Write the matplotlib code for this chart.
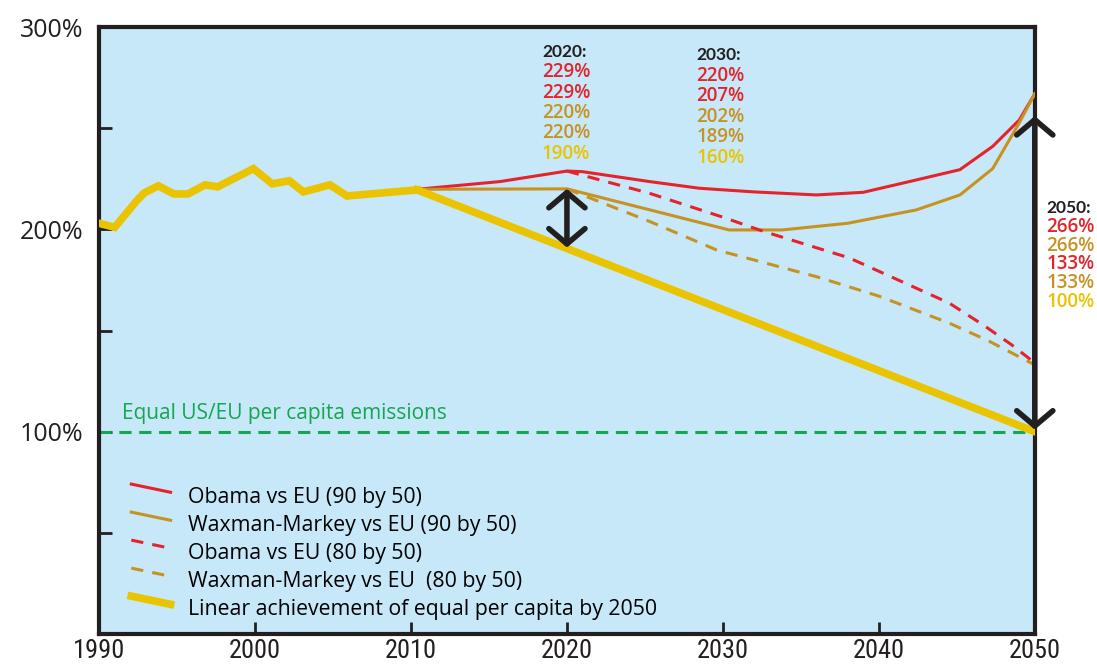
import numpy as np
import matplotlib.pyplot as plt
from matplotlib.legend_handler import HandlerLine2D
from matplotlib.lines import Line2D

plt.rcParams['font.family'] = ['Open Sans', 'DejaVu Sans']

# historical ratio US/EU per capita emissions (%)
hist_years = [1990, 1991, 1992.4, 1992.9, 1993.8, 1994.8, 1995.7, 1996.8, 1997.6, 1999.9,
              2001.1, 2002.2, 2003.1, 2004.8, 2005.9, 2010.4]
hist_vals = [203, 201, 214, 218, 221.5, 217.5, 217.5, 222, 221, 230,
             222.5, 224, 218.5, 222, 216.5, 219.5]

# projections
obama90_years = [2010.4, 2015.7, 2020, 2021, 2025.3, 2028.5, 2032, 2036, 2039, 2042.4, 2045.2, 2047.3, 2049, 2050]
obama90_vals = [219.8, 223.6, 228.8, 228.5, 223.6, 220.3, 218.5, 217, 218.3, 224.4, 229.5, 241, 254, 267]

waxman90_years = [2010.4, 2020, 2030.4, 2033.8, 2038, 2042.4, 2045.2, 2047.3, 2049, 2050]
waxman90_vals = [219.8, 220, 199.7, 199.7, 203, 209.6, 217, 230, 252.6, 267]

obama80_years = [2020, 2025.3, 2030, 2032.6, 2038.1, 2044.5, 2046.7, 2048.5, 2050]
obama80_vals = [228.8, 217.8, 206, 199, 185.9, 163.6, 152.7, 143, 134]

waxman80_years = [2020, 2025.3, 2029.6, 2036, 2040, 2044.5, 2047, 2050]
waxman80_vals = [220, 203.9, 189.8, 176.6, 167, 153.7, 145, 133]

linear_years = [2010.4, 2050]
linear_vals = [219.5, 100]

labels = ['Obama vs EU (90 by 50)', 'Waxman-Markey vs EU (90 by 50)', 'Obama vs EU (80 by 50)',
          'Waxman-Markey vs EU  (80 by 50)', 'Linear achievement of equal per capita by 2050']

note_2020 = ['229%', '229%', '220%', '220%', '190%']
note_2030 = ['220%', '207%', '202%', '189%', '160%']
note_2050 = ['266%', '266%', '133%', '133%', '100%']

RED = '#e4232b'
GOLD = '#c89222'
YEL = '#eac400'
GREEN = '#16a550'
DARK = '#231f20'
BG = '#c6e8f8'
note_colors = [RED, RED, GOLD, GOLD, YEL]
note_colors_2050 = [RED, GOLD, RED, GOLD, YEL]


class SlantHandler(HandlerLine2D):
    def create_artists(self, legend, orig_handle, xdescent, ydescent, width, height, fontsize, trans):
        line = Line2D([-xdescent, width - xdescent], [height * 1.25, height * 0.7])
        self.update_prop(line, orig_handle, legend)
        line.set_transform(trans)
        return [line]


fig = plt.figure(figsize=(10.97, 6.65), dpi=100)
ax = fig.add_axes([0.0903, 0.0466, 0.853, 0.9128])
ax.set_facecolor(BG)

ax.axhline(100, color=GREEN, lw=2.2, ls=(0, (4, 2.5)), zorder=2)
ax.text(1991.5, 104, 'Equal US/EU per capita emissions', color=GREEN, fontsize=15, va='bottom')

ax.plot(hist_years, hist_vals, color=YEL, lw=5.5, solid_joinstyle='miter', zorder=4)
l5, = ax.plot(linear_years, linear_vals, color=YEL, lw=5.5, zorder=4)
l1, = ax.plot(obama90_years, obama90_vals, color=RED, lw=2.2, zorder=3)
l2, = ax.plot(waxman90_years, waxman90_vals, color=GOLD, lw=2.2, zorder=3)
l3, = ax.plot(obama80_years, obama80_vals, color=RED, lw=2.2, ls=(0, (4, 3)), zorder=3)
l4, = ax.plot(waxman80_years, waxman80_vals, color=GOLD, lw=2.2, ls=(0, (4, 3)), zorder=3)

# double arrows
arrow_style = dict(arrowstyle='<->, head_length=0.55, head_width=0.65', lw=4, color=DARK,
                   shrinkA=0, shrinkB=0, mutation_scale=20)
ax.annotate('', xy=(2020, 191), xytext=(2020, 220), arrowprops=arrow_style, zorder=5)
ax.annotate('', xy=(2050, 101), xytext=(2050, 256), arrowprops=arrow_style,
            annotation_clip=False, zorder=5)

# value notes
def note_block(x, y0, step, year, values, colors):
    ax.text(x, y0, year, color=DARK, fontsize=12.5, fontweight='bold', family=['Lato', 'DejaVu Sans'],
            va='center', clip_on=False)
    for i, (v, c) in enumerate(zip(values, colors)):
        ax.text(x, y0 - step * (i + 1), v, color=c, fontsize=13.5, fontweight='semibold',
                va='center', clip_on=False)

note_block(2018.4, 287.8, 10.1, '2020:', note_2020, note_colors)
note_block(2028.3, 286.2, 10.2, '2030:', note_2030, note_colors)
note_block(2050.75, 210.4, 9.25, '2050:', note_2050, note_colors_2050)

ax.set_xlim(1990, 2050)
ax.set_ylim(0, 300)
ax.set_xticks([2000, 2010, 2020, 2030, 2040])
ax.set_xticks([1990, 2050], minor=True)
ax.set_yticks([50, 100, 150, 200, 250])
ax.set_yticklabels([])
ax.set_xticklabels([])
ax.tick_params(which='major', direction='in', length=9, width=2, color=DARK)
ax.tick_params(which='minor', length=0)
for sp in ax.spines.values():
    sp.set_linewidth(3)
    sp.set_color(DARK)

for v, t in [(300, '300%'), (200, '200%'), (100, '100%')]:
    ax.text(-0.017, v - 1.5, t, transform=ax.get_yaxis_transform(), ha='right', va='center',
            fontsize=18, color=DARK)
for yr in range(1990, 2051, 10):
    ax.text(yr, -0.009, str(yr), transform=ax.get_xaxis_transform(), ha='center', va='top',
            fontsize=19, color=DARK, family=['Roboto Condensed', 'Open Sans'],
            fontstretch='condensed')

ax.legend([l1, l2, l3, l4, l5], labels, loc='lower left', bbox_to_anchor=(0.014, -0.008),
          frameon=False, fontsize=15.3, handlelength=1.85, handletextpad=0.8, labelspacing=0.33,
          borderpad=0.4, handler_map={Line2D: SlantHandler()})

fig.savefig('out.png', dpi=100)
